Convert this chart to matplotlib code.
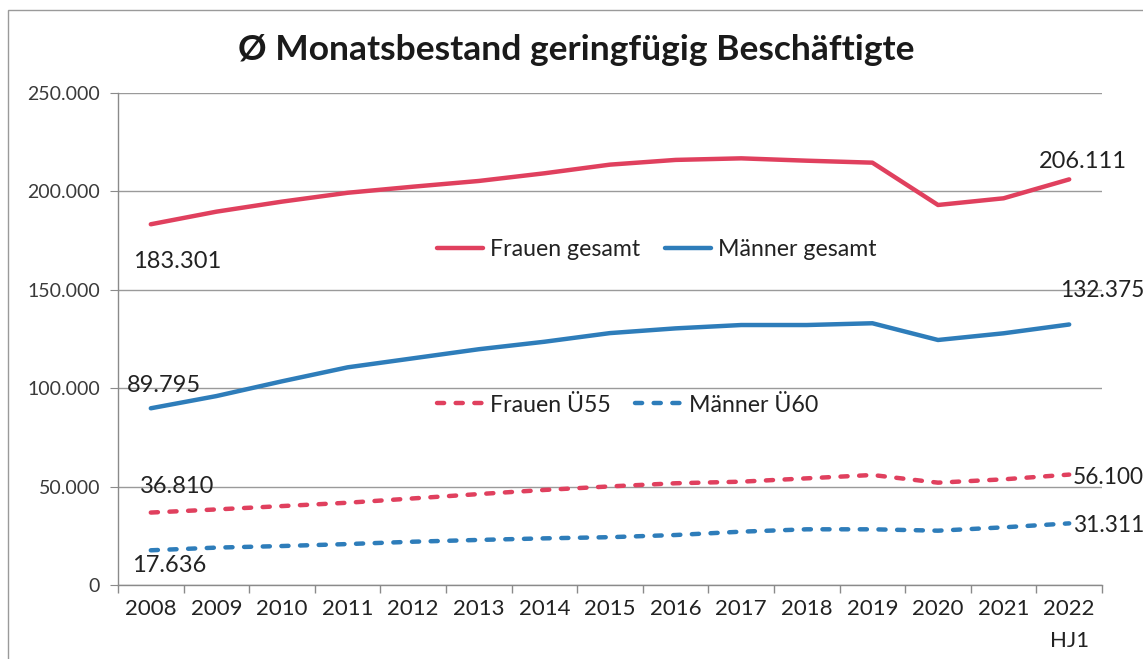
import matplotlib
matplotlib.use("Agg")
import matplotlib.pyplot as plt
from matplotlib.patches import Rectangle
from matplotlib.ticker import FuncFormatter

years = ["2008", "2009", "2010", "2011", "2012", "2013", "2014", "2015",
         "2016", "2017", "2018", "2019", "2020", "2021", "2022\nHJ1"]
frauen_gesamt = [183301, 189700, 194800, 199300, 202400, 205300, 209200, 213600,
                 216000, 216800, 215600, 214600, 193100, 196500, 206111]
maenner_gesamt = [89795, 96000, 103500, 110600, 115200, 119800, 123600, 128000,
                  130400, 132100, 132100, 133000, 124500, 127900, 132375]
frauen_u55 = [36810, 38400, 40100, 41800, 44000, 46200, 48300, 50100,
              51700, 52500, 54200, 55900, 52000, 53700, 56100]
maenner_u60 = [17636, 19000, 19800, 20800, 22000, 22900, 23700, 24300,
               25400, 27100, 28300, 28300, 27600, 29300, 31311]

RED = "#E0405E"
BLUE = "#2E7DBA"
FONT = "Lato"
plt.rcParams['font.family'] = [FONT, 'DejaVu Sans']

fig = plt.figure(figsize=(11.43, 6.59), dpi=100)
W, H = 1143, 659
ax = fig.add_axes([118 / W, 1 - 585 / H, (1102 - 118) / W, (585 - 93) / H])

x = list(range(len(years)))
lw = 3.2
l1, = ax.plot(x, frauen_gesamt, color=RED, lw=lw, solid_capstyle='round', label="Frauen gesamt")
l2, = ax.plot(x, maenner_gesamt, color=BLUE, lw=lw, solid_capstyle='round', label="Männer gesamt")
l3, = ax.plot(x, frauen_u55, color=RED, lw=lw, dashes=(1.6, 2.6), dash_capstyle='round', label="Frauen Ü55")
l4, = ax.plot(x, maenner_u60, color=BLUE, lw=lw, dashes=(1.6, 2.6), dash_capstyle='round', label="Männer Ü60")

ax.set_xlim(-0.5, len(years) - 0.5)
ax.set_ylim(0, 250000)
ax.set_yticks([0, 50000, 100000, 150000, 200000, 250000])
ax.yaxis.set_major_formatter(FuncFormatter(lambda v, p: f"{int(v):,}".replace(",", ".")))
ax.grid(axis='y', color="#9a9a9a", lw=1)
ax.set_axisbelow(True)
ax.set_xticks(x)
ax.set_xticklabels(years, fontsize=16, color="#222222", linespacing=1.75, va='top')
ax.set_xticks([i - 0.5 for i in range(len(years) + 1)], minor=True)
ax.tick_params(axis='x', which='major', length=0, pad=10)
ax.tick_params(axis='x', which='minor', length=6, color="#8a8a8a", width=1)
ax.tick_params(axis='y', length=6, color="#8a8a8a", labelsize=14, labelcolor="#3a3a3a", pad=7)
for lab in ax.get_xticklabels():
    lab.set_multialignment('center')
for s in ["top", "right"]:
    ax.spines[s].set_visible(False)
for s in ["left", "bottom"]:
    ax.spines[s].set_color("#8a8a8a")
    ax.spines[s].set_linewidth(1)

# data labels (offsets in points)
lab_kw = dict(color="#222222", textcoords='offset points', ha='left', va='center',
              annotation_clip=False)
ax.annotate("183.301", (0, frauen_gesamt[0]), xytext=(-13, -27), fontsize=17, **lab_kw)
ax.annotate("206.111", (14, frauen_gesamt[-1]), xytext=(-21.6, 13), fontsize=17, **lab_kw)
ax.annotate("89.795", (0, maenner_gesamt[0]), xytext=(-17, 16.5), fontsize=17, **lab_kw)
ax.annotate("132.375", (14, maenner_gesamt[-1]), xytext=(-6.5, 24.5), fontsize=16.3, **lab_kw)
ax.annotate("36.810", (0, frauen_u55[0]), xytext=(-8, 18.7), fontsize=17, **lab_kw)
ax.annotate("56.100", (14, frauen_u55[-1]), xytext=(2.5, -2), fontsize=16.3, **lab_kw)
ax.annotate("17.636", (0, maenner_u60[0]), xytext=(-13.7, -11), fontsize=17, **lab_kw)
ax.annotate("31.311", (14, maenner_u60[-1]), xytext=(2.5, -1.5), fontsize=16.3, **lab_kw)

leg_kw = dict(ncol=2, frameon=False, fontsize=16.7, handlelength=2.0, handletextpad=0.3,
              columnspacing=1.05, borderaxespad=0, borderpad=0)
leg1 = ax.legend(handles=[l1, l2], loc='center left', bbox_to_anchor=((437 - 118) / 984, (585 - 250) / 492), **leg_kw)
ax.add_artist(leg1)
leg2 = ax.legend(handles=[l3, l4], loc='center left', bbox_to_anchor=((437 - 118) / 984, (585 - 405) / 492), **leg_kw)
for lg in (leg1, leg2):
    for t in lg.get_texts():
        t.set_color("#222222")

fig.text(576 / W, 1 - 50 / H, "Ø Monatsbestand geringfügig Beschäftigte", ha='center', va='center',
         fontsize=25.5, fontweight='bold', color="#1a1a1a")

fig.patches.append(Rectangle((8 / W, -0.1), 1.2, 1 - 10 / H + 0.1, transform=fig.transFigure,
                             fill=False, edgecolor="#9a9a9a", lw=1))

fig.savefig("out.png", dpi=100)
